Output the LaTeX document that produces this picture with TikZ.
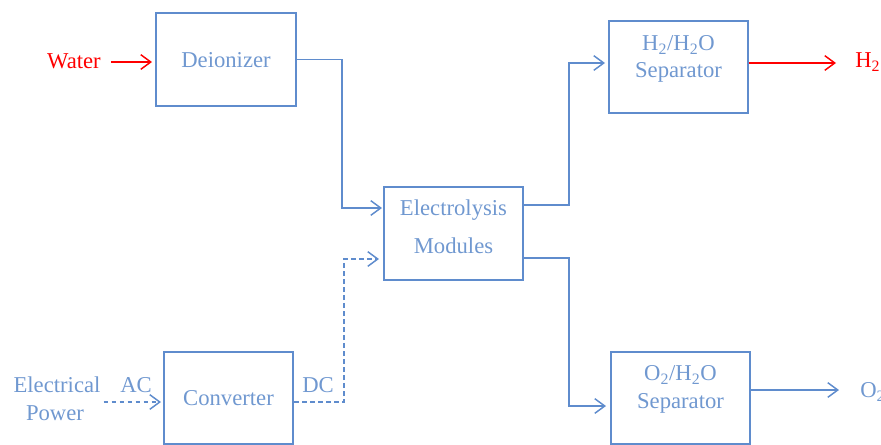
\documentclass[tikz,border=0pt]{standalone}
\usepackage{fontspec}
\setmainfont{Liberation Serif}
\usetikzlibrary{arrows.meta,calc}
\definecolor{boxblue}{RGB}{95,140,205}
\definecolor{txtblue}{RGB}{112,152,208}
\definecolor{flowred}{RGB}{255,0,0}
\begin{document}
\begin{tikzpicture}[x=0.75pt,y=-0.75pt,
  font=\fontsize{17}{20}\selectfont,
  blk/.style={draw=boxblue,line width=1.5pt,minimum width=#1*0.75pt,inner sep=0pt},
  blk/.default=139,
  txt/.style={text=txtblue,inner sep=0pt,align=center},
  flow/.style={draw=boxblue,line width=1.1pt,-{Straight Barb[length=7.5pt,width=11pt,line width=1.1pt]}},
  dashline/.style={dash pattern=on 3.5pt off 2.5pt},
  redflow/.style={draw=flowred,line width=1.1pt,-{Straight Barb[length=7.5pt,width=11pt,line width=1.1pt]}}
]
\useasboundingbox (0,0) rectangle (881,444);

% boxes
\node[blk=140,minimum height=93*0.75pt] (dei) at (226,59.5) {};
\node[blk=139,minimum height=93*0.75pt] (elec) at (453.5,233.5) {};
\node[blk=139,minimum height=92*0.75pt] (hsep) at (678.5,67) {};
\node[blk=139,minimum height=92*0.75pt] (osep) at (680.5,398) {};
\node[blk=129,minimum height=92*0.75pt] (conv) at (228.5,397.5) {};

% box texts
\node[txt] (deit) at (226,60) {Deionizer};
\node[txt] (elect1) at (453.5,210) {Electrolysis};
\node[txt] (elect2) at (453.5,246) {Modules};
\node[txt] (hsept1) at (678.5,45) {H\textsubscript{2}/H\textsubscript{2}O};
\node[txt] (hsept2) at (678.5,72) {Separator};
\node[txt] (osept1) at (680.5,375) {O\textsubscript{2}/H\textsubscript{2}O};
\node[txt] (osept2) at (680.5,403) {Separator};
\node[txt] (convt) at (228.5,398) {Converter};

% outside labels
\node[inner sep=0pt,text=flowred] (water) at (74,61) {Water};
\node[inner sep=0pt,text=flowred,anchor=west] (h2) at (855,62) {H\textsubscript{2}};
\node[inner sep=0pt,text=txtblue,anchor=west] (o2) at (860,392) {O\textsubscript{2}};
\node[txt] (power1) at (57,385) {Electrical};
\node[txt] (power2) at (55,413) {Power};
\node[txt] (ac) at (136,385) {AC};
\node[txt] (dc) at (318,385) {DC};

% connectors
\draw[redflow] ($(water.east)+(10,1)$) -- ($(dei.west)+(-3,2.5)$);
\draw[flow] (dei.east) -- ++(45,0) |- ($(elec.west)+(-1,-25.5)$);
\draw[flow] ($(elec.east)+(0,-28.5)$) -- ++(45,0) |- ($(hsep.west)+(-3,-4)$);
\draw[flow] ($(elec.east)+(0,24.5)$) -- ++(45,0) |- ($(osep.west)+(-4,8)$);
\draw[redflow] ($(hsep.east)+(0,-4)$) -- ($(h2.west)+(-19,1)$);
\draw[flow] ($(osep.east)+(0,-8)$) -- ($(o2.west)+(-21,-2)$);
\draw[flow,dashline] ($(power1.east)+(3,17)$) -- ($(conv.west)+(-2,4.5)$);
\draw[flow,dashline] ($(conv.east)+(0,4.5)$) -- ++(50,0) |- ($(elec.west)+(-4,25.5)$);
\end{tikzpicture}
\end{document}
